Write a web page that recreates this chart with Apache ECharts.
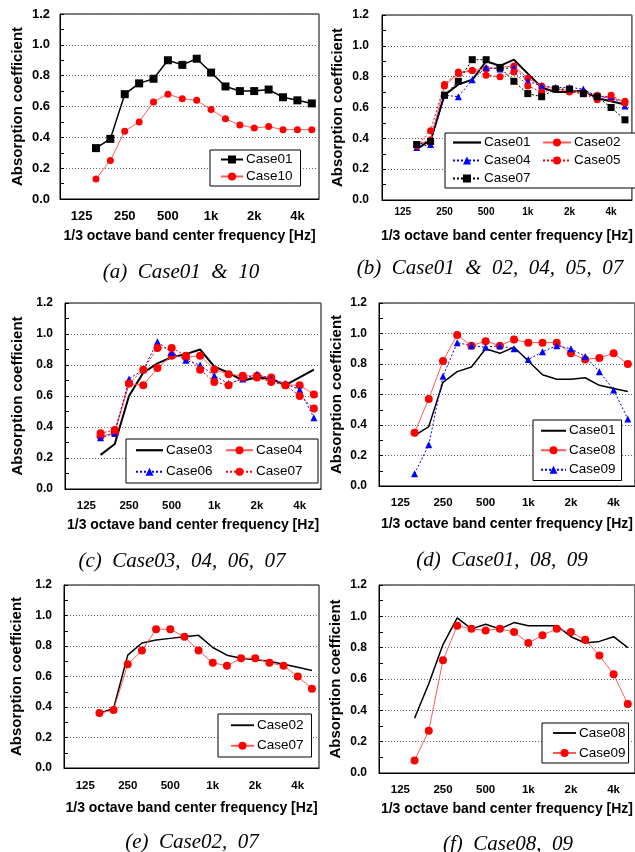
<!DOCTYPE html>
<html>
<head>
<meta charset="utf-8">
<script src="https://cdn.jsdelivr.net/npm/echarts@6/dist/echarts.min.js"></script>
<style>
  html, body { margin: 0; padding: 0; background: #fff; overflow: hidden; }
  #chart { width: 635px; height: 852px; }
</style>
</head>
<body>
<div id="chart"></div>
<script>
// 1/3 octave band centres (Hz); data starts at 160 Hz
var bands = ['100', '125', '160', '200', '250', '315', '400', '500', '630', '800',
  '1k', '1.25k', '1.6k', '2k', '2.5k', '3.15k', '4k', '5k']
var shownBands = ['125', '250', '500', '1k', '2k', '4k']

var case01 = [0.33, 0.39, 0.68, 0.75, 0.78, 0.90, 0.87, 0.91, 0.82, 0.73, 0.70, 0.70, 0.71, 0.66, 0.64, 0.62]
var case02 = [0.36, 0.39, 0.74, 0.82, 0.84, 0.85, 0.86, 0.87, 0.79, 0.74, 0.72, 0.71, 0.70, 0.68, 0.66, 0.64]
var case03 = [0.22, 0.29, 0.60, 0.75, 0.81, 0.85, 0.87, 0.90, 0.79, 0.75, 0.70, 0.72, 0.71, 0.67, 0.72, 0.77]
var case04 = [0.34, 0.36, 0.68, 0.67, 0.78, 0.86, 0.85, 0.86, 0.77, 0.74, 0.73, 0.73, 0.72, 0.67, 0.67, 0.61]
var case05 = [0.35, 0.45, 0.75, 0.83, 0.84, 0.81, 0.80, 0.83, 0.74, 0.70, 0.72, 0.70, 0.69, 0.65, 0.68, 0.63]
var case06 = [0.33, 0.36, 0.71, 0.77, 0.95, 0.88, 0.83, 0.80, 0.73, 0.68, 0.71, 0.74, 0.71, 0.68, 0.64, 0.46]
var case07 = [0.36, 0.38, 0.68, 0.77, 0.91, 0.91, 0.86, 0.77, 0.69, 0.67, 0.72, 0.72, 0.69, 0.67, 0.60, 0.52]
var case08 = [0.35, 0.57, 0.82, 0.99, 0.92, 0.95, 0.92, 0.96, 0.94, 0.94, 0.94, 0.87, 0.83, 0.84, 0.87, 0.80]
var case09 = [0.08, 0.27, 0.72, 0.94, 0.92, 0.91, 0.92, 0.90, 0.83, 0.88, 0.92, 0.90, 0.85, 0.75, 0.63, 0.44]
var case10 = [0.13, 0.25, 0.44, 0.50, 0.63, 0.68, 0.65, 0.64, 0.58, 0.52, 0.48, 0.46, 0.47, 0.45, 0.45, 0.45]

var captions = [
  '(a)  Case01  &  10',
  '(b)  Case01  &  02,  04,  05,  07',
  '(c)  Case03,  04,  06,  07',
  '(d)  Case01,  08,  09',
  '(e)  Case02,  07',
  '(f)  Case08,  09'
]

var SANS = 'Liberation Sans'

// panel layout: grid box, label sizes, name gaps, caption spot
var panels = [
  { grid: [60, 14, 259, 185], xFs: 13, yFs: 13, xMargin: 11, yMargin: 10, yGap: 35, xGap: 30, cap: [181, 272] },
  { grid: [382, 15, 256, 185], xFs: 10, yFs: 12, xMargin: 7, yMargin: 13, yGap: 37, xGap: 29, cap: [490, 268] },
  { grid: [65, 303, 256, 186], xFs: 11.5, yFs: 12, xMargin: 11, yMargin: 12, yGap: 40, xGap: 29, cap: [182, 561] },
  { grid: [379, 303, 260, 183], xFs: 11.5, yFs: 12, xMargin: 11, yMargin: 12, yGap: 35, xGap: 31, cap: [502, 560] },
  { grid: [64, 585, 255, 183], xFs: 11.5, yFs: 12, xMargin: 12, yMargin: 12, yGap: 40, xGap: 33, cap: [192, 842] },
  { grid: [379, 585, 258, 188], xFs: 11.5, yFs: 12, xMargin: 11, yMargin: 12, yGap: 36, xGap: 29, cap: [508, 844] }
]

function pad(arr) {
  return ['-', '-'].concat(arr)
}

var RED = '#ff0000'
var PINK = '#ff5a5a'
var BLUE = '#0000ff'

function line(panel, name, values, opt) {
  return {
    type: 'line',
    name: panel + ':' + name,
    xAxisIndex: panel,
    yAxisIndex: panel,
    data: pad(values),
    symbol: opt.symbol || 'none',
    symbolSize: opt.size || 7,
    showSymbol: !!opt.symbol,
    animation: false,
    itemStyle: { color: opt.mark || opt.color },
    lineStyle: { color: opt.color, width: opt.width || 1, type: opt.dash ? [2, 2] : 'solid' }
  }
}

var series = [
  // (a)
  line(0, 'Case01', case01, { color: '#000', width: 1.5, symbol: 'rect', size: 8 }),
  line(0, 'Case10', case10, { color: PINK, mark: RED, symbol: 'circle', size: 7 }),
  // (b)
  line(1, 'Case01', case01, { color: '#000', width: 2 }),
  line(1, 'Case02', case02, { color: PINK, mark: RED, symbol: 'circle', size: 7 }),
  line(1, 'Case04', case04, { color: BLUE, dash: true, symbol: 'triangle', size: 7 }),
  line(1, 'Case05', case05, { color: RED, dash: true, symbol: 'circle', size: 7 }),
  line(1, 'Case07', case07, { color: '#000', dash: true, symbol: 'rect', size: 7 }),
  // (c)
  line(2, 'Case03', case03, { color: '#000', width: 2 }),
  line(2, 'Case04', case04, { color: PINK, mark: RED, symbol: 'circle', size: 8 }),
  line(2, 'Case06', case06, { color: BLUE, dash: true, symbol: 'triangle', size: 7 }),
  line(2, 'Case07', case07, { color: RED, dash: true, symbol: 'circle', size: 8 }),
  // (d)
  line(3, 'Case01', case01, { color: '#000', width: 1.5 }),
  line(3, 'Case08', case08, { color: PINK, mark: RED, symbol: 'circle', size: 8 }),
  line(3, 'Case09', case09, { color: BLUE, dash: true, symbol: 'triangle', size: 7 }),
  // (e)
  line(4, 'Case02', case02, { color: '#000', width: 1.5 }),
  line(4, 'Case07', case07, { color: PINK, mark: RED, symbol: 'circle', size: 8 }),
  // (f)
  line(5, 'Case08', case08, { color: '#000', width: 1.5 }),
  line(5, 'Case09', case09, { color: PINK, mark: RED, symbol: 'circle', size: 8 })
]

var grids = [], xAxes = [], yAxes = [], graphics = []
panels.forEach(function (p, i) {
  grids.push({
    left: p.grid[0], top: p.grid[1], width: p.grid[2], height: p.grid[3],
    show: true, borderColor: '#000', borderWidth: 1, backgroundColor: '#fff'
  })
  xAxes.push({
    type: 'category',
    gridIndex: i,
    data: bands,
    boundaryGap: true,
    name: '1/3 octave band center frequency [Hz]',
    nameLocation: 'middle',
    nameGap: p.xGap,
    nameTextStyle: { fontFamily: SANS, fontWeight: 'bold', fontSize: 14, color: '#000' },
    axisLine: { lineStyle: { color: '#000', width: 1 } },
    axisTick: { inside: true, interval: 0, length: 5, lineStyle: { color: '#000' } },
    axisLabel: {
      interval: function (idx, val) { return shownBands.indexOf(val) >= 0 },
      margin: p.xMargin,
      fontFamily: SANS, fontWeight: 'bold', fontSize: p.xFs, color: '#000'
    },
    splitLine: { show: false }
  })
  yAxes.push({
    type: 'value',
    gridIndex: i,
    min: 0, max: 1.2, interval: 0.2,
    name: 'Absorption coefficient',
    nameLocation: 'middle',
    nameRotate: 90,
    nameGap: p.yGap,
    nameTextStyle: { fontFamily: SANS, fontWeight: 'bold', fontSize: 15, color: '#000' },
    axisLine: { show: true, lineStyle: { color: '#000', width: 1 } },
    axisTick: { show: true, inside: true, length: 4, lineStyle: { color: '#000' } },
    minorTick: { show: true, splitNumber: 2, length: 4, lineStyle: { color: '#000' } },
    axisLabel: {
      margin: p.yMargin,
      formatter: function (v) { return v.toFixed(1) },
      fontFamily: SANS, fontWeight: 'bold', fontSize: p.yFs, color: '#000'
    },
    splitLine: { show: true, lineStyle: { color: '#666', type: [1, 2], width: 1 } }
  })
  graphics.push({
    type: 'text',
    x: p.cap[0], y: p.cap[1],
    style: {
      text: captions[i],
      fontFamily: 'Liberation Serif', fontStyle: 'italic', fontSize: 21,
      fill: '#000', align: 'center', verticalAlign: 'middle'
    }
  })
})

// legend entries; plain-line series get a bare line icon
var LINE_ICON = 'path://M0,0H25V2H0Z'
function names(panel, list, plain) {
  return list.map(function (n) {
    var item = { name: panel + ':' + n }
    if (plain && plain.indexOf(n) >= 0) item.icon = LINE_ICON
    return item
  })
}

var legendBase = {
  backgroundColor: '#fff',
  borderColor: '#000',
  borderWidth: 1,
  borderRadius: 0,
  itemHeight: 10,
  formatter: function (n) { return n.split(':')[1] },
  selectedMode: false
}

function legend(opt) {
  var o = Object.assign({}, legendBase, opt)
  o.textStyle = Object.assign({ fontFamily: SANS, fontSize: 13.5, color: '#000', padding: [0, 0, 0, -2] }, opt.textStyle || {})
  return o
}

var legends = [
  legend({ data: names(0, ['Case01', 'Case10']), left: 210, top: 150, orient: 'vertical',
    padding: [2, 8, 2, 10], itemWidth: 22, itemGap: 2, textStyle: { lineHeight: 15 } }),
  legend({ data: names(1, ['Case01', 'Case02', 'Case04', 'Case05', 'Case07'], ['Case01']), left: 445, top: 133,
    orient: 'horizontal', width: 200, padding: [2, 14, 2, 7], itemWidth: 28, itemGap: 3,
    textStyle: { width: 55, lineHeight: 15 } }),
  legend({ data: names(2, ['Case03', 'Case04', 'Case06', 'Case07'], ['Case03']), left: 126, top: 439,
    orient: 'horizontal', width: 190, padding: [2, 6, 2, 9], itemWidth: 27, itemGap: 3,
    textStyle: { width: 56, lineHeight: 18.5 } }),
  legend({ data: names(3, ['Case01', 'Case08', 'Case09'], ['Case01']), left: 533, top: 420, orient: 'vertical',
    padding: [2, 6, 2, 7], itemWidth: 25, itemGap: 2, textStyle: { lineHeight: 17.5 } }),
  legend({ data: names(4, ['Case02', 'Case07'], ['Case02']), left: 218, top: 714, orient: 'vertical',
    padding: [2, 8, 2, 12], itemWidth: 23, itemGap: 2, textStyle: { lineHeight: 18.5 } }),
  legend({ data: names(5, ['Case08', 'Case09'], ['Case08']), left: 542, top: 723, orient: 'vertical',
    padding: [1, 3, 1, 10], itemWidth: 23, itemGap: 2, textStyle: { lineHeight: 18 } })
]

var chart = echarts.init(document.getElementById('chart'), null, { renderer: 'canvas' })
chart.setOption({
  animation: false,
  backgroundColor: '#fff',
  grid: grids,
  xAxis: xAxes,
  yAxis: yAxes,
  legend: legends,
  series: series,
  graphic: graphics
})
</script>
</body>
</html>
